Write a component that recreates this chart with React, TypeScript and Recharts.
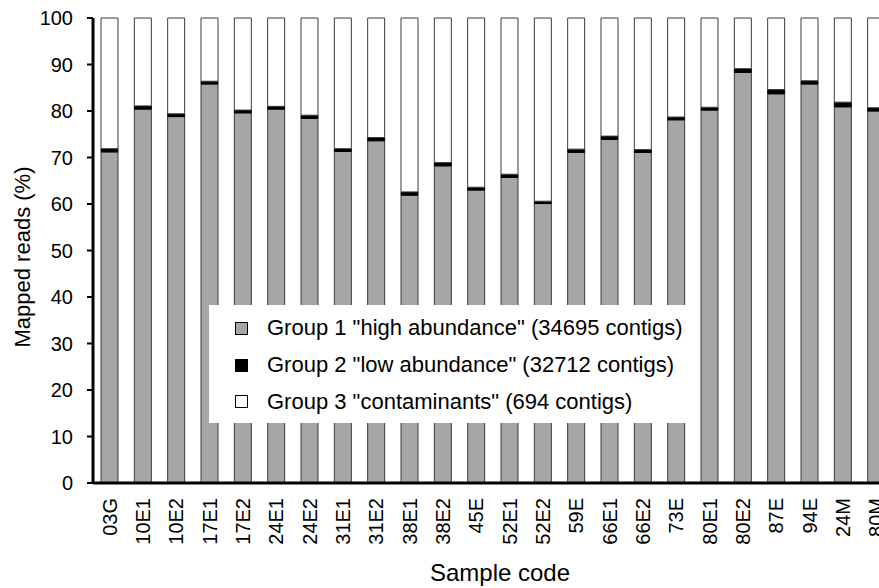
import React from 'react';
import { BarChart, Bar, XAxis, YAxis, Legend } from 'recharts';

const samples = ['03G', '10E1', '10E2', '17E1', '17E2', '24E1', '24E2', '31E1', '31E2', '38E1', '38E2', '45E',
  '52E1', '52E2', '59E', '66E1', '66E2', '73E', '80E1', '80E2', '87E', '94E', '24M', '80M'];

const highAbundance = [71.2, 80.4, 78.8, 85.8, 79.6, 80.4, 78.4, 71.3, 73.6, 61.9, 68.2, 63.0,
  65.7, 60.1, 71.1, 73.9, 71.1, 78.1, 80.2, 88.3, 83.7, 85.8, 80.9, 80.0];

const lowAbundance = [0.7, 0.7, 0.6, 0.6, 0.6, 0.6, 0.7, 0.6, 0.7, 0.7, 0.7, 0.6,
  0.7, 0.5, 0.7, 0.7, 0.6, 0.6, 0.6, 0.8, 0.9, 0.7, 1.0, 0.7];

const yTicks = [0, 10, 20, 30, 40, 50, 60, 70, 80, 90, 100];

const seriesNames = [
  'Group 1 "high abundance" (34695 contigs)',
  'Group 2 "low abundance" (32712 contigs)',
  'Group 3 "contaminants" (694 contigs)',
];

// contaminants = whatever is left up to 100%
const data = samples.map((s, i) => ({
  sample: s,
  g1: highAbundance[i],
  g2: lowAbundance[i],
  g3: +(100 - highAbundance[i] - lowAbundance[i]).toFixed(1),
}));

const FONT = '"Liberation Sans", Arial, Helvetica, sans-serif';

const SampleTick = (props: any) => {
  const { x, y, payload } = props;
  return (
    <text
      x={x}
      y={y}
      transform={`rotate(-90 ${x} ${y})`}
      textAnchor="end"
      dominantBaseline="central"
      fontSize={20}
      fill="#000"
      fontFamily={FONT}
    >
      {payload.value}
    </text>
  );
};

const LegendBox = (props: any) => {
  const { payload } = props;
  return (
    <div style={{ fontFamily: FONT, fontSize: 22, color: '#000', paddingTop: 5, paddingLeft: 26 }}>
      {payload.map((entry: any, i: number) => (
        <div key={i} style={{ display: 'flex', alignItems: 'center', height: 36.7 }}>
          <span
            style={{
              display: 'inline-block',
              width: 13,
              height: 13,
              background: entry.color,
              border: '1px solid #000',
              boxSizing: 'border-box',
              marginRight: 19,
            }}
          />
          <span>{entry.value}</span>
        </div>
      ))}
    </div>
  );
};

const App: React.FC = () => {
  return (
    <div style={{ position: 'absolute', left: 0, top: 0, width: 879, height: 588, overflow: 'hidden', background: '#fff' }}>
      <BarChart
        width={900}
        height={588}
        data={data}
        margin={{ top: 18, right: 7, bottom: 0, left: 0 }}
        style={{ fontFamily: FONT }}
      >
        <XAxis
          dataKey="sample"
          height={105}
          interval={0}
          tickLine={false}
          tickSize={0}
          tickMargin={15}
          axisLine={{ stroke: '#000', strokeWidth: 3 }}
          tick={<SampleTick />}
        />
        <YAxis
          width={93}
          domain={[0, 100]}
          ticks={yTicks}
          interval={0}
          tickSize={6}
          tickMargin={14}
          axisLine={{ stroke: '#000', strokeWidth: 3 }}
          tickLine={{ stroke: '#000', strokeWidth: 2 }}
          tick={{ fill: '#000', fontSize: 20, fontFamily: FONT }}
        />
        <Legend
          layout="vertical"
          align="center"
          verticalAlign="middle"
          content={<LegendBox />}
          wrapperStyle={{ left: 209, top: 305, width: 488, height: 118, background: '#fff' }}
        />
        <Bar dataKey="g1" name={seriesNames[0]} stackId="a" barSize={17} fill="#a6a6a6" stroke="#3a3a3a" strokeWidth={1} isAnimationActive={false} />
        <Bar dataKey="g2" name={seriesNames[1]} stackId="a" barSize={17} fill="#000" stroke="#000" strokeWidth={1} isAnimationActive={false} />
        <Bar dataKey="g3" name={seriesNames[2]} stackId="a" barSize={17} fill="#fff" stroke="#3a3a3a" strokeWidth={1} isAnimationActive={false} />
      </BarChart>
      <div
        style={{
          position: 'absolute',
          left: 23,
          top: 257,
          transform: 'translate(-50%, -50%) rotate(-90deg)',
          whiteSpace: 'nowrap',
          fontFamily: FONT,
          fontSize: 22,
          color: '#000',
        }}
      >
        Mapped reads (%)
      </div>
      <div
        style={{
          position: 'absolute',
          left: 500,
          top: 573,
          transform: 'translate(-50%, -50%)',
          whiteSpace: 'nowrap',
          fontFamily: FONT,
          fontSize: 24,
          color: '#000',
        }}
      >
        Sample code
      </div>
    </div>
  );
};

export default App;
